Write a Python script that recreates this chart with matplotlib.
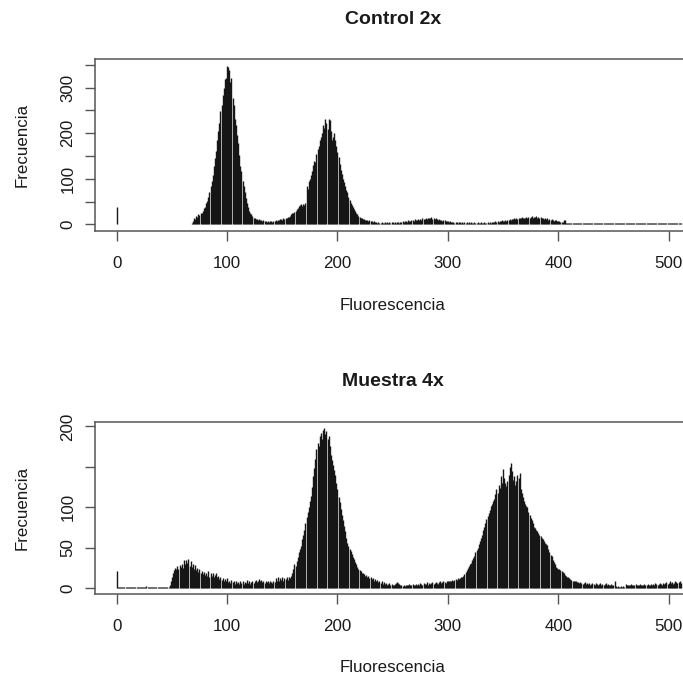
import numpy as np
import matplotlib
matplotlib.use("Agg")
import matplotlib.pyplot as plt

plt.rcParams["font.family"] = ["Liberation Sans", "DejaVu Sans"]

# counts per fluorescence channel (0..511)
control_2x = [
    38, 1, 1, 1, 1, 1, 1, 1, 1, 1, 1, 1, 1, 1, 1, 1,
    1, 1, 1, 1, 1, 1, 1, 1, 1, 1, 1, 1, 1, 1, 1, 1,
    1, 1, 1, 1, 1, 1, 1, 1, 1, 1, 1, 1, 1, 1, 1, 1,
    1, 1, 1, 1, 1, 1, 1, 1, 1, 1, 1, 1, 1, 1, 1, 1,
    1, 1, 1, 1, 3, 8, 14, 12, 18, 16, 22, 20, 26, 24, 30, 35,
    38, 46, 52, 60, 72, 84, 96, 108, 128, 145, 160, 184, 205, 222, 248, 262,
    284, 300, 318, 322, 348, 344, 338, 312, 320, 276, 262, 232, 218, 195, 178, 152,
    128, 116, 96, 84, 70, 58, 46, 38, 30, 26, 22, 18, 15, 14, 12, 11,
    10, 12, 9, 10, 8, 9, 7, 8, 6, 7, 6, 8, 7, 6, 8, 7,
    9, 8, 10, 9, 11, 12, 10, 13, 12, 15, 14, 17, 16, 19, 22, 24,
    26, 28, 30, 33, 36, 40, 42, 44, 41, 45, 43, 46, 84, 78, 96, 100,
    108, 118, 130, 140, 136, 155, 165, 172, 185, 192, 200, 218, 212, 230, 222, 210,
    232, 228, 205, 186, 192, 200, 185, 172, 158, 148, 132, 120, 110, 100, 92, 84,
    76, 70, 60, 54, 47, 42, 37, 33, 29, 25, 22, 19, 17, 15, 13, 12,
    11, 10, 10, 9, 8, 9, 7, 8, 6, 7, 5, 6, 4, 5, 3, 4,
    5, 3, 4, 6, 3, 5, 4, 6, 3, 5, 6, 4, 5, 3, 6, 5,
    4, 6, 5, 7, 6, 8, 7, 6, 9, 8, 7, 9, 10, 8, 11, 9,
    10, 12, 9, 11, 10, 13, 11, 12, 14, 12, 13, 15, 13, 16, 12, 14,
    11, 13, 12, 10, 11, 9, 10, 8, 9, 10, 8, 7, 8, 6, 7, 5,
    6, 5, 4, 6, 5, 4, 5, 6, 4, 5, 3, 5, 4, 6, 4, 5,
    4, 5, 3, 4, 5, 4, 3, 5, 4, 4, 5, 3, 4, 5, 4, 3,
    5, 4, 6, 4, 5, 6, 5, 7, 6, 7, 6, 8, 7, 9, 8, 7,
    9, 8, 10, 9, 11, 10, 12, 11, 13, 12, 14, 12, 15, 13, 14, 16,
    13, 15, 14, 16, 15, 17, 14, 16, 18, 15, 17, 16, 18, 15, 17, 14,
    16, 13, 15, 12, 14, 11, 13, 10, 12, 9, 11, 10, 8, 10, 9, 7,
    8, 7, 6, 5, 6, 9, 10, 4, 3, 4, 3, 3, 4, 2, 3, 4,
    3, 2, 3, 4, 3, 2, 3, 3, 4, 2, 3, 3, 2, 4, 3, 2,
    3, 4, 3, 2, 3, 3, 4, 3, 2, 3, 4, 3, 3, 2, 4, 3,
    2, 3, 3, 4, 2, 3, 3, 2, 3, 4, 3, 2, 3, 3, 2, 4,
    3, 2, 3, 4, 3, 3, 2, 3, 3, 4, 2, 3, 2, 3, 3, 2,
    3, 3, 2, 3, 4, 2, 3, 2, 3, 3, 2, 3, 2, 2, 3, 2,
    3, 2, 2, 3, 2, 3, 2, 2, 3, 2, 2, 3, 2, 2, 3, 2,
]

muestra_4x = [
    21, 1, 1, 1, 1, 1, 1, 1, 1, 1, 1, 1, 1, 1, 1, 1,
    1, 1, 1, 1, 1, 1, 1, 1, 1, 1, 1, 2, 1, 1, 1, 1,
    1, 1, 1, 1, 1, 1, 1, 1, 1, 1, 1, 1, 1, 1, 1, 1,
    4, 8, 14, 18, 22, 25, 24, 27, 23, 28, 26, 30, 25, 34, 29, 35,
    31, 36, 27, 33, 26, 30, 24, 28, 22, 25, 20, 23, 18, 21, 17, 20,
    16, 19, 15, 21, 14, 18, 15, 19, 14, 16, 18, 13, 15, 11, 13, 10,
    12, 9, 11, 8, 12, 7, 9, 6, 10, 7, 8, 5, 9, 6, 7, 5,
    8, 6, 9, 5, 7, 6, 10, 6, 8, 5, 7, 9, 6, 8, 10, 7,
    9, 11, 8, 10, 7, 9, 6, 8, 7, 9, 6, 8, 7, 6, 9, 7,
    12, 8, 13, 9, 12, 10, 13, 9, 12, 11, 14, 10, 13, 12, 15, 18,
    24, 30, 27, 33, 38, 44, 48, 52, 60, 66, 72, 80, 88, 94, 100, 108,
    114, 125, 138, 148, 160, 172, 180, 176, 188, 192, 185, 196, 198, 190, 194, 184,
    188, 176, 165, 158, 152, 146, 140, 130, 122, 112, 106, 98, 90, 84, 77, 70,
    62, 56, 52, 48, 46, 42, 38, 36, 32, 29, 26, 24, 22, 21, 19, 18,
    17, 15, 16, 14, 15, 12, 13, 11, 12, 9, 11, 8, 10, 7, 9, 6,
    8, 5, 7, 5, 6, 4, 5, 6, 4, 5, 3, 4, 5, 6, 7, 6,
    5, 4, 3, 2, 3, 2, 3, 4, 3, 5, 4, 3, 5, 4, 4, 5,
    3, 5, 4, 6, 5, 4, 6, 5, 5, 7, 4, 6, 5, 6, 7, 5,
    6, 7, 6, 5, 7, 8, 6, 7, 8, 7, 6, 8, 8, 9, 8, 9,
    10, 9, 10, 11, 10, 12, 11, 12, 14, 13, 15, 17, 20, 22, 25, 27,
    29, 31, 34, 37, 40, 44, 47, 50, 54, 58, 62, 66, 72, 76, 80, 85,
    89, 93, 97, 101, 104, 107, 110, 116, 122, 118, 128, 124, 138, 130, 147, 136,
    130, 126, 132, 140, 150, 155, 145, 134, 138, 128, 132, 140, 136, 142, 122, 118,
    113, 108, 104, 102, 100, 94, 90, 87, 84, 80, 76, 74, 72, 70, 68, 66,
    64, 62, 60, 58, 56, 54, 53, 48, 44, 41, 39, 35, 32, 29, 26, 25,
    24, 23, 22, 21, 20, 18, 16, 15, 14, 13, 12, 11, 10, 9, 9, 8,
    8, 7, 7, 6, 7, 6, 5, 6, 7, 5, 6, 5, 6, 4, 5, 6,
    5, 4, 6, 5, 4, 5, 6, 4, 5, 4, 5, 6, 4, 5, 3, 4,
    5, 4, 3, 9, 2, 1, 2, 1, 1, 2, 1, 2, 1, 5, 3, 4,
    3, 4, 5, 3, 4, 3, 5, 4, 3, 4, 5, 3, 4, 4, 5, 3,
    4, 5, 4, 3, 5, 4, 5, 4, 6, 5, 4, 5, 6, 5, 4, 6,
    5, 6, 7, 5, 6, 8, 6, 7, 5, 6, 8, 7, 6, 7, 8, 6,
]

titles = ["Control 2x", "Muestra 4x"]
x_label = "Fluorescencia"
y_label = "Frecuencia"
x_ticks = [0, 100, 200, 300, 400, 500]
y_ticks_top = [0, 50, 100, 150, 200, 250, 300, 350]
y_labels_top = ["0", "", "100", "", "200", "", "300", ""]
y_ticks_bottom = [0, 50, 100, 150, 200]
y_labels_bottom = ["0", "50", "100", "", "200"]

box_color = "#555555"
text_color = "#1a1a1a"

fig = plt.figure(figsize=(6.83, 6.77), dpi=100)

# axes boxes (the right edge runs past the figure, like the cropped original)
ax_top = fig.add_axes([0.1385, 0.6592, 0.8728, 0.2532])
ax_bot = fig.add_axes([0.1385, 0.1222, 0.8728, 0.2550])

panels = [
    (ax_top, control_2x, titles[0], y_ticks_top, y_labels_top),
    (ax_bot, muestra_4x, titles[1], y_ticks_bottom, y_labels_bottom),
]

for ax, counts, title, yt, ytl in panels:
    counts = np.array(counts)
    chan = np.arange(len(counts))
    ax.vlines(chan, 0, counts, colors="#161616", linewidth=1.0)

    # R style limits: 4% padding
    ax.set_xlim(-0.04 * 500, 500 * 1.04)
    ymax = counts.max()
    ax.set_ylim(-0.04 * ymax, ymax * 1.04)

    ax.set_xticks(x_ticks)
    ax.set_xticklabels([str(t) for t in x_ticks])
    ax.set_yticks(yt)
    ax.set_yticklabels(ytl)

    ax.tick_params(axis="both", direction="out", length=7.4, width=1.0,
                   color=box_color, labelsize=12.2, labelcolor=text_color)
    ax.tick_params(axis="x", pad=10.5)
    ax.tick_params(axis="y", pad=6.5, labelrotation=90)
    for lab in ax.get_yticklabels():
        lab.set_verticalalignment("center")

    for sp in ax.spines.values():
        sp.set_color(box_color)
        sp.set_linewidth(1.1)

    ax.set_title(title, fontsize=14, fontweight="bold", color=text_color, pad=25.5)

# axis labels placed like R's mtext lines
fig.text(0.575, 1 - 305 / 677, x_label, ha="center", va="center",
         fontsize=12.2, color=text_color)
fig.text(0.575, 1 - 667 / 677, x_label, ha="center", va="center",
         fontsize=12.2, color=text_color)
fig.text(21.8 / 683, 1 - 145 / 677, y_label, ha="center", va="center",
         rotation=90, fontsize=12.2, color=text_color)
fig.text(21.8 / 683, 1 - 508 / 677, y_label, ha="center", va="center",
         rotation=90, fontsize=12.2, color=text_color)

fig.savefig("out.png", dpi=100)
